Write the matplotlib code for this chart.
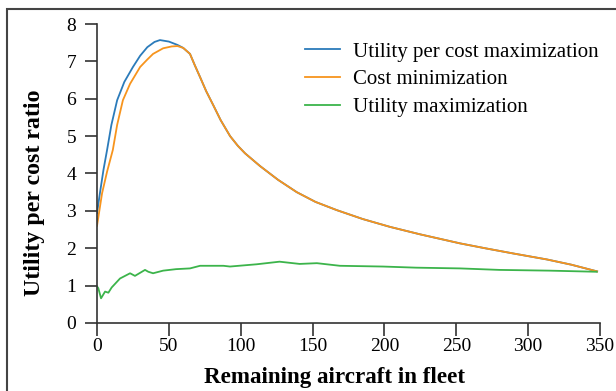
import matplotlib
matplotlib.use("Agg")
import matplotlib.pyplot as plt
from matplotlib.patches import Rectangle

# Rising part differs between the two cost-based strategies
upc_x = [0, 2, 4.5, 7, 10, 14, 19, 25, 30, 35, 40, 43.8, 50, 56]
upc_y = [2.94, 3.47, 4.10, 4.63, 5.30, 5.96, 6.45, 6.85, 7.15, 7.38, 7.52, 7.57, 7.53, 7.44]
cm_x = [0, 3.5, 7, 11, 14, 18, 23, 30, 35, 39, 46, 52, 56]
cm_y = [2.60, 3.47, 4.05, 4.63, 5.30, 5.96, 6.40, 6.85, 7.05, 7.20, 7.35, 7.40, 7.41]

# Shared declining tail
tail_x = [60, 64.7, 68, 71.7, 76, 81, 86, 92.6, 98, 103, 113.4, 126, 139, 152, 166.8,
          185, 204, 225, 252.6, 270, 289.6, 313, 330, 348]
tail_y = [7.36, 7.20, 6.90, 6.58, 6.20, 5.82, 5.43, 5.00, 4.74, 4.54, 4.20, 3.83, 3.50,
          3.24, 3.02, 2.78, 2.57, 2.37, 2.13, 2.00, 1.86, 1.70, 1.56, 1.38]

um_x = [0, 0.9, 2.8, 5.6, 7.9, 10.2, 16, 23, 26.4, 33.4, 35.7, 39, 46, 55, 64.7,
        71.7, 88, 92.5, 111, 127, 134, 141, 153, 169, 199, 222, 252.6, 280, 315, 347.7]
um_y = [0.98, 0.93, 0.66, 0.84, 0.81, 0.95, 1.19, 1.33, 1.26, 1.42, 1.37, 1.33, 1.40,
        1.44, 1.46, 1.53, 1.53, 1.51, 1.57, 1.64, 1.61, 1.58, 1.60, 1.53, 1.51, 1.48,
        1.46, 1.42, 1.40, 1.37]

x_ticks = [0, 50, 100, 150, 200, 250, 300, 350]
y_ticks = [0, 1, 2, 3, 4, 5, 6, 7, 8]

plt.rcParams["font.family"] = ["Liberation Serif", "DejaVu Serif"]

fig = plt.figure(figsize=(6.16, 3.91), dpi=100)
ax = fig.add_axes([0.1575, 0.174, 0.8165, 0.7646])

ax.plot(upc_x + tail_x, upc_y + tail_y, color="#2b7bba", lw=1.3,
        label="Utility per cost maximization")
ax.plot(cm_x + tail_x, cm_y + tail_y, color="#f7941d", lw=1.3,
        label="Cost minimization")
ax.plot(um_x, um_y, color="#3cb44b", lw=1.3, label="Utility maximization")

ax.set_xlim(0, 350)
ax.set_ylim(0, 8)
ax.set_xticks(x_ticks)
ax.set_yticks(y_ticks)
ax.tick_params(labelsize=14, length=9, width=1.2, color="#333333")
ax.tick_params(axis="x", pad=2)
ax.tick_params(axis="y", pad=6)
for side in ("top", "right"):
    ax.spines[side].set_visible(False)
for side in ("left", "bottom"):
    ax.spines[side].set_linewidth(1.2)
    ax.spines[side].set_color("#333333")

fig.text(335 / 616, 1 - 383 / 391, "Remaining aircraft in fleet", fontsize=16.6,
         fontweight="bold", ha="center", va="baseline")
fig.text(35 / 616, 1 - 193 / 391, "Utility per cost ratio", fontsize=17.2,
         fontweight="bold", ha="center", va="center", rotation=90)

ax.legend(loc="upper left", bbox_to_anchor=(0.4135, 0.94), frameon=False,
          fontsize=15, handlelength=1.7, handletextpad=0.62, labelspacing=0.4,
          borderpad=0, borderaxespad=0)

# outer frame of the original figure panel (cropped on right/bottom)
fig.patches.append(Rectangle((7 / 616, -0.1), 1.2, 1 - 9 / 391 + 0.1,
                             transform=fig.transFigure, fill=False,
                             edgecolor="#444444", lw=1.5))

fig.savefig("out.png", dpi=100)
